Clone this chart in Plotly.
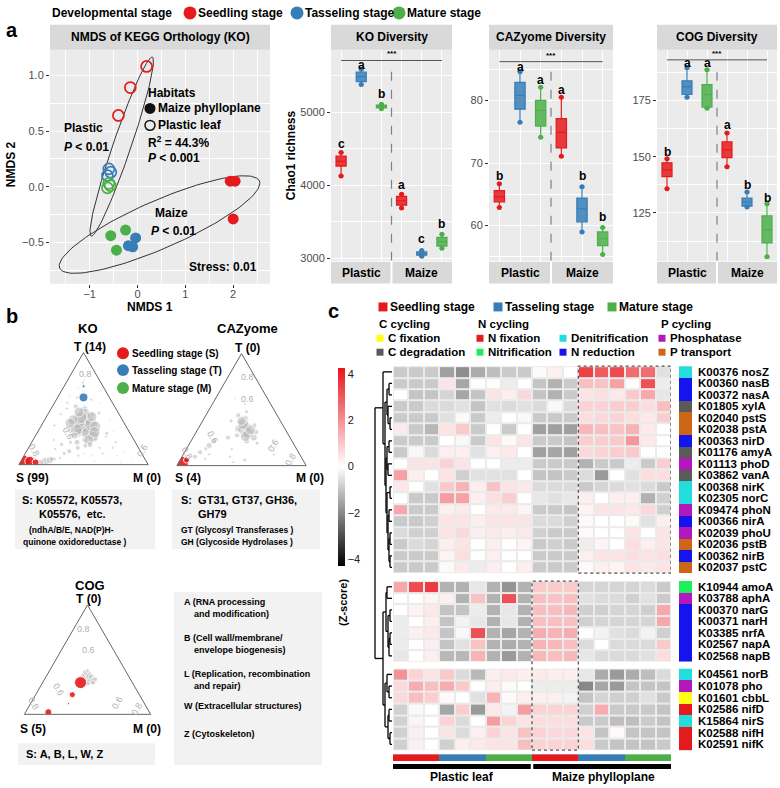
import math
import plotly.graph_objects as go

W, H = 780, 788
FONT = "Liberation Sans, Arial, sans-serif"
RED, BLUE, GREEN = "#E41A1C", "#377EB8", "#4DAF4A"
PANEL_BG = "#EBEBEB"
STRIP_BG = "#D9D9D9"

# ------------------------------------------------------------------ data
stage_names = ["Seedling stage", "Tasseling stage", "Mature stage"]
stage_colors = [RED, BLUE, GREEN]

# NMDS (panel a)
nmds_pl_S_x = [0.19, -0.15, -0.40]
nmds_pl_S_y = [1.08, 0.89, 0.64]
nmds_pl_T_x = [-0.60, -0.56, -0.63]
nmds_pl_T_y = [0.16, 0.13, 0.10]
nmds_pl_M_x = [-0.60, -0.63, -0.57]
nmds_pl_M_y = [0.03, -0.01, 0.01]
nmds_mz_S_x = [1.94, 2.04, 2.00]
nmds_mz_S_y = [0.05, 0.05, -0.29]
nmds_mz_T_x = [-0.19, -0.04, -0.10]
nmds_mz_T_y = [-0.53, -0.46, -0.54]
nmds_mz_M_x = [-0.56, -0.25, -0.44]
nmds_mz_M_y = [-0.44, -0.39, -0.57]

# Box plots: order Plastic S,T,M | Maize S,T,M
box_pos = [1, 2, 3, 4, 5, 6]
ko_lo = [4130, 5380, 5050, 3690, 3030, 3140]
ko_q1 = [4265, 5420, 5060, 3730, 3045, 3170]
ko_med = [4330, 5490, 5080, 3790, 3065, 3230]
ko_q3 = [4400, 5550, 5100, 3850, 3090, 3290]
ko_hi = [4450, 5590, 5110, 3880, 3110, 3330]
ko_letters = ["c", "a", "b", "a", "c", "b"]
ko_letter_y = [4565, 5650, 5245, 4000, 3270, 3475]

cz_lo = [62.9, 76.5, 74.1, 71.1, 59.0, 55.4]
cz_q1 = [63.8, 78.6, 75.9, 72.4, 60.6, 56.8]
cz_med = [64.6, 80.8, 78.4, 74.9, 62.7, 57.9]
cz_q3 = [65.6, 82.9, 80.0, 77.1, 64.4, 59.0]
cz_hi = [66.7, 84.6, 82.1, 80.5, 66.2, 59.7]
cz_letters = ["b", "a", "a", "a", "b", "b"]
cz_letter_y = [67.9, 85.4, 83.2, 81.7, 67.9, 61.3]

cg_lo = [135.8, 176.5, 171.6, 145.6, 127.7, 105.6]
cg_q1 = [141.2, 177.7, 172.1, 149.6, 128.1, 111.7]
cg_med = [144.2, 181.2, 177.7, 153.1, 129.9, 117.5]
cg_q3 = [147.3, 183.8, 182.1, 156.6, 131.6, 123.7]
cg_hi = [149.1, 189.6, 188.7, 160.6, 134.3, 129.1]
cg_letters = ["b", "a", "a", "a", "b", "b"]
cg_letter_y = [152.0, 191.5, 191.5, 164.0, 137.4, 131.8]

# Ternary (panel b): T (top), S (left), marker size
ko_gray_T = [0.35, 0.40, 0.30, 0.38, 0.33, 0.45, 0.28, 0.42, 0.36, 0.25, 0.48, 0.31, 0.39, 0.22, 0.50, 0.27,
             0.44, 0.34, 0.20, 0.17, 0.15, 0.52, 0.30, 0.24, 0.37, 0.32, 0.10, 0.12, 0.08, 0.05, 0.06, 0.15,
             0.10, 0.05, 0.08, 0.20, 0.12, 0.05, 0.25, 0.55, 0.60, 0.65, 0.70, 0.58, 0.03, 0.18, 0.14, 0.03,
             0.02, 0.40, 0.30, 0.45, 0.50, 0.62, 0.75, 0.20, 0.03, 0.04, 0.02, 0.05,
             0.30, 0.35, 0.40, 0.45, 0.33, 0.38, 0.28, 0.42, 0.25, 0.36, 0.31, 0.47, 0.22, 0.40, 0.34, 0.29,
             0.37, 0.43, 0.18, 0.26, 0.08, 0.12, 0.22, 0.35, 0.55, 0.68, 0.80, 0.46, 0.15, 0.06, 0.10, 0.28]
ko_gray_S = [0.33, 0.30, 0.35, 0.36, 0.28, 0.28, 0.40, 0.34, 0.25, 0.33, 0.27, 0.30, 0.40, 0.38, 0.24, 0.27,
             0.22, 0.42, 0.45, 0.40, 0.47, 0.30, 0.45, 0.30, 0.31, 0.37, 0.60, 0.55, 0.50, 0.70, 0.65, 0.20,
             0.30, 0.30, 0.20, 0.15, 0.12, 0.10, 0.20, 0.35, 0.25, 0.18, 0.15, 0.15, 0.40, 0.58, 0.65, 0.55,
             0.20, 0.10, 0.12, 0.45, 0.38, 0.30, 0.12, 0.50, 0.78, 0.74, 0.82, 0.72,
             0.30, 0.32, 0.28, 0.27, 0.36, 0.35, 0.33, 0.31, 0.30, 0.26, 0.40, 0.30, 0.35, 0.38, 0.24, 0.27,
             0.42, 0.22, 0.36, 0.44, 0.40, 0.80, 0.62, 0.55, 0.10, 0.20, 0.10, 0.15, 0.30, 0.85, 0.45, 0.18]
ko_gray_size = [9, 9, 9, 8, 8, 8, 8, 8, 7, 7, 7, 9, 7, 6, 6, 7, 6, 6, 6, 5, 5, 5, 5, 6, 9, 9, 4, 5, 3, 4, 3, 3,
                3, 2, 2, 3, 2, 2, 3, 3, 3, 2, 2, 3, 2, 4, 3, 2, 2, 2, 2, 3, 3, 2, 2, 4, 8, 7, 6, 5,
                14, 15, 13, 12, 14, 13, 12, 12, 11, 13, 12, 10, 10, 10, 11, 11, 10, 10, 6, 7, 2, 2, 3, 3, 2, 2,
                2, 4, 3, 2, 2, 4]
ko_red_T = [0.02, 0.03, 0.02]
ko_red_S = [0.96, 0.90, 0.86]
ko_red_size = [15, 10, 7]
ko_blue_T = [0.60, 0.70, 0.73]
ko_blue_S = [0.20, 0.15, 0.14]
ko_blue_size = [9, 3, 2]

cz_gray_T = [0.31, 0.35, 0.28, 0.38, 0.25, 0.33, 0.42, 0.22, 0.30, 0.45, 0.36, 0.27, 0.40, 0.20, 0.48, 0.05,
             0.08, 0.12, 0.15, 0.18, 0.22, 0.10, 0.06, 0.10, 0.18, 0.05, 0.08, 0.25, 0.15, 0.55, 0.60, 0.03,
             0.33, 0.29, 0.37, 0.26, 0.40, 0.32]
cz_gray_S = [0.30, 0.28, 0.33, 0.32, 0.28, 0.36, 0.26, 0.35, 0.24, 0.30, 0.22, 0.40, 0.38, 0.28, 0.22, 0.88,
             0.82, 0.76, 0.70, 0.66, 0.60, 0.70, 0.75, 0.20, 0.18, 0.45, 0.55, 0.48, 0.50, 0.20, 0.25, 0.55,
             0.32, 0.30, 0.30, 0.34, 0.30, 0.27]
cz_gray_size = [9, 8, 8, 7, 7, 7, 6, 6, 6, 5, 5, 5, 4, 4, 4, 4, 5, 5, 4, 6, 5, 3, 3, 3, 3, 4, 3, 5, 3, 3, 2, 3,
                12, 11, 11, 10, 9, 10]
cz_red_T = [0.03, 0.05]
cz_red_S = [0.94, 0.90]
cz_red_size = [12, 6]

cg_gray_T = [0.33, 0.36, 0.30, 0.34, 0.38, 0.31, 0.35, 0.28, 0.32, 0.40, 0.29]
cg_gray_S = [0.34, 0.31, 0.33, 0.30, 0.33, 0.30, 0.36, 0.36, 0.28, 0.30, 0.31]
cg_gray_size = [8, 7, 7, 6, 6, 6, 5, 5, 5, 4, 5]
cg_red_T = [0.29, 0.18, 0.10, 0.02]
cg_red_S = [0.41, 0.53, 0.60, 0.80]
cg_red_size = [12, 6, 2, 7]

# Heatmap (panel c)
genes_b1 = ["K00376 nosZ", "K00360 nasB", "K00372 nasA", "K01805 xylA", "K02040 pstS", "K02038 pstA",
            "K00363 nirD", "K01176 amyA", "K01113 phoD", "K03862 vanA", "K00368 nirK", "K02305 norC",
            "K09474 phoN", "K00366 nirA", "K02039 phoU", "K02036 pstB", "K00362 nirB", "K02037 pstC"]
genes_b2 = ["K10944 amoA", "K03788 aphA", "K00370 narG", "K00371 narH", "K03385 nrfA", "K02567 napA",
            "K02568 napB"]
genes_b3 = ["K04561 norB", "K01078 pho", "K01601 cbbL", "K02586 nifD", "K15864 nirS", "K02588 nifH",
            "K02591 nifK"]
func_names = ["C fixation", "C degradation", "N fixation", "Nitrification", "Denitrification",
              "N reduction", "Phosphatase", "P transport"]
func_colors = ["#FFFF14", "#5A5A5A", "#E41A1C", "#1EEE5A", "#22DCDE", "#1414EE", "#B218BE", "#CE6618"]
func_b1 = [4, 5, 5, 1, 7, 7, 5, 1, 6, 1, 4, 4, 6, 5, 6, 7, 5, 7]
func_b2 = [3, 6, 5, 5, 5, 5, 5]
func_b3 = [4, 6, 0, 2, 4, 2, 2]
col_stage = [0, 0, 0, 1, 1, 1, 2, 2, 2, 0, 0, 0, 1, 1, 1, 2, 2, 2]

hm_b1 = [
    [-0.9, -0.9, -0.9, -1.6, -1.9, -1.4, -1.1, -0.9, -0.9, 0.1, 0.3, 0.0, 3.5, 3.0, 3.3, 2.7, 2.7, -0.5],
    [-0.9, -0.9, -0.9, 0.5, -1.5, 0.0, 0.05, -0.3, 0.0, -1.0, -1.3, -0.9, 1.2, 1.1, 1.7, 0.05, 3.2, -0.3],
    [0.0, -1.0, -1.0, -0.7, -1.5, -1.0, 0.5, 0.3, 0.7, -1.0, -1.3, -0.9, 0.5, 0.6, 0.4, 1.0, 1.6, -0.4],
    [-0.9, -0.9, -0.6, -0.6, -0.5, -1.0, -0.5, -0.6, -0.5, -0.6, -0.1, -0.6, 0.8, 0.8, 0.9, 0.9, 0.6, 1.2],
    [-0.9, -0.9, -0.9, -0.5, 0.1, -0.9, -0.3, 0.0, -0.1, -0.9, -0.9, -0.9, 0.6, 0.7, 0.8, 0.6, 0.4, 0.9],
    [0.4, -0.9, -1.2, 0.5, 1.0, -0.9, 0.0, -0.9, 0.0, -1.6, -1.6, -1.6, 1.3, 1.2, 1.1, 1.4, 0.4, 0.0],
    [-0.9, -0.9, -0.9, 0.0, -0.1, -0.9, 0.5, 0.1, 0.5, -0.9, -0.9, -1.0, 0.9, 0.9, 1.0, 1.9, 0.4, 0.0],
    [-0.9, -0.1, -0.6, 0.3, 0.3, -0.5, 0.3, 0.4, 0.0, -1.6, -1.5, -1.6, 0.7, 0.8, 0.9, 1.0, 0.0, 0.0],
    [0.0, 0.5, 0.5, 0.8, 0.5, 0.0, 0.0, -0.3, -0.3, -0.9, -0.9, -0.9, -1.3, -0.9, -0.9, -0.3, -0.9, 0.9],
    [1.7, 0.3, 0.0, 0.5, -0.8, -0.5, -0.5, -0.5, 0.0, -1.0, -1.0, -0.9, -0.6, -1.7, 0.0, -0.5, 0.6, 0.6],
    [0.4, 0.0, -0.5, 1.0, 1.4, 0.3, 1.1, 0.5, 0.4, -0.6, -0.6, -0.6, -0.9, -0.7, -0.6, -0.5, -0.6, -0.9],
    [0.0, -0.9, -0.9, 1.8, 1.7, 0.3, 0.6, 0.9, 0.0, -0.4, -0.5, -0.4, 0.3, 0.0, 0.3, 0.3, -1.3, -0.8],
    [1.6, -0.9, -0.9, 0.3, 0.4, 0.0, 0.4, 0.4, 0.2, -0.9, -0.9, -1.0, 0.2, 0.5, 0.5, 0.4, 0.7, -0.8],
    [-0.9, -0.9, -0.8, 0.5, 0.5, 0.3, 0.5, 0.5, 0.5, -0.6, -0.6, -0.8, 0.1, 0.0, 0.0, 0.1, -0.5, 0.3],
    [-0.6, -0.8, -0.8, 0.5, 0.7, 0.3, 0.4, 0.3, 0.4, -0.8, -0.9, -0.9, 0.1, 0.0, 0.0, 0.5, 0.0, 0.5],
    [-0.9, -0.6, -0.7, 0.3, 0.5, 0.0, 0.3, 0.0, 0.2, -0.9, -0.8, -0.9, -0.3, 0.2, 0.0, 0.6, 0.3, 0.5],
    [-0.9, -0.9, -0.9, 0.2, 0.6, 0.0, 0.3, 0.0, 0.0, -0.9, -0.9, -0.9, 0.3, 0.5, 0.5, 0.6, 0.5, 0.6],
    [-0.9, -0.9, -0.9, 0.1, 0.4, -0.3, 0.3, 0.0, 0.3, -0.9, -0.9, -0.9, 0.1, 0.3, 0.2, 0.5, 0.4, 0.5],
]
hm_b2 = [
    [1.6, 3.3, 3.6, -1.3, -1.3, -0.4, -1.3, -1.8, -1.3, 1.0, 1.0, 1.0, -0.7, -0.7, -0.7, -0.7, -0.6, -0.9],
    [0.0, 0.0, 0.2, 0.3, -1.3, 1.1, -1.3, 3.2, -1.3, 1.2, 1.1, 1.2, -0.5, -0.6, -0.6, -0.8, -0.5, -0.9],
    [0.0, 0.2, 0.4, -1.0, -1.0, -0.3, -1.3, -0.4, -1.3, 1.2, 1.2, 1.3, -0.8, -0.8, -0.7, -0.7, -0.8, 1.6],
    [-0.3, 0.0, 0.3, -1.0, -0.2, -0.4, -1.3, -0.4, -1.3, 1.2, 1.2, 1.2, -0.8, -0.7, -0.7, -0.7, -0.7, 1.6],
    [-0.3, 0.3, 0.4, -1.0, -0.1, 3.2, -1.3, -1.5, -1.3, 1.5, 1.4, 1.5, 0.0, -0.2, -0.5, -0.6, -0.2, -0.8],
    [-0.3, 0.0, 0.3, -1.0, -0.5, 1.1, -1.3, -1.4, -1.3, 1.4, 1.3, 1.2, -0.6, 0.0, -0.6, -0.6, -0.6, 1.0],
    [-0.4, 0.0, 0.3, -1.2, -1.2, 1.4, -1.3, -1.7, -1.3, 1.3, 1.2, 1.3, -0.4, -0.6, -0.6, -0.6, -0.5, 0.6],
]
hm_b3 = [
    [2.0, 0.8, 0.5, 1.0, -0.6, -1.2, 0.3, 0.4, 0.3, 0.4, 0.3, 0.3, -0.4, -1.4, -1.7, -1.4, -1.1, -0.6],
    [0.7, 1.5, 1.2, 1.5, 1.0, 0.0, 0.3, 0.1, 0.0, -0.3, -0.3, -0.3, -2.0, -1.5, -1.7, -1.0, -1.0, -1.0],
    [0.7, 1.2, 0.9, 0.1, 0.0, -0.5, 1.4, 0.1, 0.3, 0.3, 0.3, -0.2, -1.0, -0.7, -0.8, -0.8, -0.5, -0.9],
    [-0.8, -0.1, 0.0, -1.5, 0.9, -1.7, 0.4, -0.2, 1.8, 0.8, 0.8, 0.8, -0.8, 1.5, -0.9, -0.9, -0.9, -1.0],
    [-0.8, 0.2, 0.0, 0.8, -0.6, 0.0, 1.8, 0.8, 0.5, 0.6, 0.6, 0.6, -0.9, -0.9, -1.1, -1.1, -0.9, -1.0],
    [-0.8, 0.3, 0.0, 0.5, -0.6, 0.3, 0.8, 0.5, 1.1, 0.8, 0.7, 0.7, 0.5, -1.0, 0.1, -1.0, -1.0, -1.0],
    [-0.8, 0.3, 0.0, -0.8, 0.3, 0.4, 0.5, 0.5, 1.2, 0.8, 0.8, 0.8, 0.6, -0.9, -1.0, -1.0, -1.0, -0.9],
]
# Row dendrogram (leaf indices 0..31 in display order, merge heights in px units)
dendro_b1 = [0, [[[1, 2, 3], [3, [4, 5, 2], 4], 5],
                 [[[6, 7, 3], [8, 9, 4], 5],
                  [[10, 11, 2], [[12, 13, 3], [[14, 15, 2], [16, 17, 2], 3], 4], 5], 6], 7], 9]
dendro_b2 = [[18, 19, 5], [[20, 21, 2], [[22, 23, 2], 24, 3], 4], 6]
dendro_b3 = [[25, [26, 27, 3], 5], [[28, 29, 3], [30, 31, 2], 4], 7]
dendro_root = [dendro_b1, [dendro_b2, dendro_b3, 9], 17]

# ------------------------------------------------------------------ helpers
def X(p):
    return p / W


def Y(p):
    return 1 - p / H


shapes = []
anns = []


def txt(x, y, s, size=12, bold=True, color="black", xanchor="left", yanchor="middle", angle=0,
        xref="paper", yref="paper"):
    if bold:
        s = "<b>" + s + "</b>"
    anns.append(dict(x=X(x) if xref == "paper" else x, y=Y(y) if yref == "paper" else y,
                     xref=xref, yref=yref, text=s, showarrow=False, textangle=angle,
                     font=dict(family=FONT, size=size, color=color),
                     xanchor=xanchor, yanchor=yanchor))


def rect(x0, y0, x1, y1, fill, layer="below", line=None):
    shapes.append(dict(type="rect", xref="paper", yref="paper", x0=X(x0), x1=X(x1), y0=Y(y1), y1=Y(y0),
                       fillcolor=fill, line=line or dict(width=0), layer=layer))


def circ(cx, cy, r, fill, line_color=None, lw=0):
    shapes.append(dict(type="circle", xref="paper", yref="paper", x0=X(cx - r), x1=X(cx + r),
                       y0=Y(cy + r), y1=Y(cy - r), fillcolor=fill,
                       line=dict(color=line_color or fill, width=lw), layer="above"))


fig = go.Figure()

# ------------------------------------------------------------------ top legend
txt(50, 13, "Developmental stage", 12)
for cx, tx, name, col in zip([190, 297, 399], [196, 303, 405], stage_names, stage_colors):
    circ(cx, 13, 6.5, col)
    txt(tx, 13, name, 12)
txt(4, 30, "a", 20)
txt(4, 318, "b", 20)
txt(326, 313, "c", 20)

# ------------------------------------------------------------------ NMDS
NM_X = (50, 270)
NM_Y = (50, 285)
nm_xr = [-1.83, 2.77]
nm_yr = [-0.87, 1.23]
sx = (NM_X[1] - NM_X[0]) / (nm_xr[1] - nm_xr[0])
sy = (NM_Y[1] - NM_Y[0]) / (nm_yr[1] - nm_yr[0])


def ellipse(cx, cy, a, b, ang_deg, n=120):
    ang = math.radians(ang_deg)
    xs, ys = [], []
    for i in range(n + 1):
        t = 2 * math.pi * i / n
        ex, ey = a * math.cos(t), b * math.sin(t)
        xs.append(cx + (ex * math.cos(ang) - ey * math.sin(ang)) / sx)
        ys.append(cy + (ex * math.sin(ang) + ey * math.cos(ang)) / sy)
    return xs, ys


for (cx, cy, a, b, ang) in [(-0.33, 0.36, 95, 9, 71.2), (0.46, -0.34, 109, 24, 23.7)]:
    ex, ey = ellipse(cx, cy, a, b, ang)
    fig.add_trace(go.Scatter(x=ex, y=ey, mode="lines", line=dict(color="#333333", width=1),
                             xaxis="x", yaxis="y", showlegend=False, hoverinfo="skip"))

for xs, ys, col in [(nmds_pl_S_x, nmds_pl_S_y, RED), (nmds_pl_T_x, nmds_pl_T_y, BLUE),
                    (nmds_pl_M_x, nmds_pl_M_y, GREEN)]:
    fig.add_trace(go.Scatter(x=xs, y=ys, mode="markers", xaxis="x", yaxis="y", showlegend=False,
                             marker=dict(symbol="circle-open", size=11, color=col, line=dict(width=1.7))))
for xs, ys, col in [(nmds_mz_S_x, nmds_mz_S_y, RED), (nmds_mz_T_x, nmds_mz_T_y, BLUE),
                    (nmds_mz_M_x, nmds_mz_M_y, GREEN)]:
    fig.add_trace(go.Scatter(x=xs, y=ys, mode="markers", xaxis="x", yaxis="y", showlegend=False,
                             marker=dict(symbol="circle", size=11, color=col)))

rect(NM_X[0], 50, NM_X[1], NM_Y[1], PANEL_BG)
rect(NM_X[0], 25, NM_X[1], 50, STRIP_BG)
txt((NM_X[0] + NM_X[1]) / 2, 37.5, "NMDS of KEGG Orthology (KO)", 12, xanchor="center")
txt(150, 309, "NMDS 1", 12, xanchor="center")
txt(11, 165, "NMDS 2", 12, xanchor="center", angle=-90)
txt(146, 93, "Habitats", 12)
circ(150, 109, 5.5, "#111111")
txt(156, 109, "Maize phylloplane", 12)
circ(150, 126, 5, "rgba(0,0,0,0)", "#111111", 1.5)
txt(156, 126, "Plastic leaf", 12)
txt(146, 143, "R<sup>2</sup> = 44.3%", 12)
txt(146, 159, "<i>P</i> < 0.001", 12)
txt(62, 129, "Plastic", 12)
txt(62, 148, "<i>P</i> < 0.01", 12)
txt(153, 214, "Maize", 12)
txt(149, 232, "<i>P</i> < 0.01", 12)
txt(259, 268, "Stress: 0.01", 12, xanchor="right")

# ------------------------------------------------------------------ box panels
PANELS = [
    dict(ax="2", x=(331, 452), yr=[2970, 5857], dt=1000, title="KO Diversity", lo=ko_lo, q1=ko_q1,
         med=ko_med, q3=ko_q3, hi=ko_hi, let=ko_letters, lety=ko_letter_y, sig=5710, dash_top=5612),
    dict(ax="3", x=(489, 613), yr=[54.4, 88.1], dt=10, title="CAZyome Diversity", lo=cz_lo, q1=cz_q1,
         med=cz_med, q3=cz_q3, hi=cz_hi, let=cz_letters, lety=cz_letter_y, sig=86.2, dash_top=85.2),
    dict(ax="4", x=(657, 777), yr=[103.8, 197.6], dt=25, title="COG Diversity", lo=cg_lo, q1=cg_q1,
         med=cg_med, q3=cg_q3, hi=cg_hi, let=cg_letters, lety=cg_letter_y, sig=193.1, dash_top=190.9),
]
box_cols = stage_colors * 2
fill_cols = ["rgba(228,26,28,0.85)", "rgba(55,126,184,0.85)", "rgba(77,175,74,0.85)"] * 2
for P in PANELS:
    xa, ya = "x" + P["ax"], "y" + P["ax"]
    for i in range(6):
        fig.add_trace(go.Box(x=[box_pos[i]], q1=[P["q1"][i]], median=[P["med"][i]], q3=[P["q3"][i]],
                             lowerfence=[P["lo"][i]], upperfence=[P["hi"][i]], width=0.5,
                             fillcolor=fill_cols[i], line=dict(color=box_cols[i], width=1.2),
                             boxpoints=False, xaxis=xa, yaxis=ya, showlegend=False, hoverinfo="skip"))
        fig.add_trace(go.Scatter(x=[box_pos[i], box_pos[i]], y=[P["lo"][i], P["hi"][i]], mode="markers",
                                 marker=dict(size=5, color=box_cols[i]), xaxis=xa, yaxis=ya,
                                 showlegend=False, hoverinfo="skip"))
        txt(box_pos[i], P["lety"][i], P["let"][i], 12, xanchor="center", xref=xa, yref=ya)
    shapes.append(dict(type="line", xref=xa, yref=ya, x0=3.5, x1=3.5, y0=P["yr"][0], y1=P["dash_top"],
                       line=dict(color="#808080", width=1.2, dash="dash")))
    shapes.append(dict(type="line", xref=xa, yref=ya, x0=1, x1=6, y0=P["sig"], y1=P["sig"],
                       line=dict(color="#555555", width=1)))
    txt(3.5, P["sig"], "***", 8, xanchor="center", yanchor="bottom", xref=xa, yref=ya)
    x0, x1 = P["x"]
    mid = x0 + (x1 - x0) / 2
    rect(x0, 50, x1, 262, PANEL_BG)
    rect(x0, 25, x1, 50, STRIP_BG)
    txt(mid, 37.5, P["title"], 12, xanchor="center")
    rect(x0, 263, mid - 1, 285, STRIP_BG)
    rect(mid + 1, 263, x1, 285, STRIP_BG)
    txt((x0 + mid) / 2, 274, "Plastic", 12, xanchor="center")
    txt((mid + x1) / 2, 274, "Maize", 12, xanchor="center")
txt(291, 156, "Chao1 richness", 12, xanchor="center", angle=-90)

# ------------------------------------------------------------------ ternary plots
GRAY = "rgba(185,185,185,0.8)"


def tern_traces(sub, gT, gS, gSz, groups):
    fig.add_trace(go.Scatterternary(a=gT, b=gS, c=[1 - t - s for t, s in zip(gT, gS)], mode="markers",
                                    marker=dict(size=gSz, color=GRAY), subplot=sub, showlegend=False,
                                    hoverinfo="skip"))
    for T, S, Sz, col in groups:
        fig.add_trace(go.Scatterternary(a=T, b=S, c=[1 - t - s for t, s in zip(T, S)], mode="markers",
                                        marker=dict(size=Sz, color=col, opacity=0.9), subplot=sub,
                                        showlegend=False, hoverinfo="skip"))


tern_traces("ternary", ko_gray_T, ko_gray_S, ko_gray_size,
            [(ko_red_T, ko_red_S, ko_red_size, RED), (ko_blue_T, ko_blue_S, ko_blue_size, BLUE)])
tern_traces("ternary2", cz_gray_T, cz_gray_S, cz_gray_size, [(cz_red_T, cz_red_S, cz_red_size, RED)])
tern_traces("ternary3", cg_gray_T, cg_gray_S, cg_gray_size, [(cg_red_T, cg_red_S, cg_red_size, RED)])


def tern_layout(x0, x1, y_top, y_bot):
    axd = dict(showline=True, linecolor="#666666", linewidth=1, showgrid=False, showticklabels=False,
               ticks="", title=dict(text=""))
    return dict(domain=dict(x=[X(x0), X(x1)], y=[Y(y_bot), Y(y_top)]), bgcolor="white",
                aaxis=axd, baxis=axd, caxis=axd, sum=1)


# titles / corner labels
txt(88, 330, "KO", 13, xanchor="center")
txt(90, 349, "T (14)", 12, xanchor="center")
txt(32, 480, "S (99)", 12, xanchor="center")
txt(147, 480, "M (0)", 12, xanchor="center")
txt(247, 330, "CAZyome", 13, xanchor="center")
txt(248, 350, "T (0)", 12, xanchor="center")
txt(188, 480, "S (4)", 12, xanchor="center")
txt(310, 480, "M (0)", 12, xanchor="center")
txt(90, 588, "COG", 13, xanchor="center")
txt(88, 602, "T (0)", 12, xanchor="center")
txt(33, 733, "S (5)", 12, xanchor="center")
txt(147, 733, "M (0)", 12, xanchor="center")

# grid-value labels inside triangles
LG = "#B0B0B0"
for (x, y, s, a) in [(85, 376, "0.8", 0), (34, 452, "0.8", 60), (68, 435, "0.6", 60), (142, 453, "0.6", -60),
                     (248, 379, "0.8", 0), (247, 401, "0.6", 0), (187, 455, "0.8", 60), (213, 440, "0.6", 60),
                     (273, 448, "0.6", -60), (290, 462, "0.8", -60),
                     (83, 632, "0.8", 0), (88, 653, "0.6", 0), (58, 693, "0.6", 60), (33, 707, "0.8", 60),
                     (118, 706, "0.6", -60), (137, 713, "0.8", -60)]:
    txt(x, y, s, 9, bold=False, color=LG, xanchor="center", angle=a)

# b legend
for cy, name, col in zip([355, 372, 390], ["Seedling stage (S)", "Tasseling stage (T)", "Mature stage (M)"],
                         stage_colors):
    circ(123, cy, 6, col)
    txt(130, cy, name, 10)

# text boxes
BOXF = "#F2F2F2"
rect(15, 492, 155, 552, BOXF)
txt(20, 503, "S: K05572, K05573,", 11)
txt(37, 517, "K05576,  etc.", 11)
txt(27, 533, "(ndhA/B/E, NAD(P)H-", 8.5)
txt(21, 545, "quinone oxidoreductase )", 8.5)
rect(172, 492, 320, 552, BOXF)
txt(179, 503, "S:  GT31, GT37, GH36,", 11)
txt(196, 517, "GH79", 11)
txt(179, 533, "GT (Glycosyl Transferases )", 8.5)
txt(179, 545, "GH (Glycoside Hydrolases )", 8.5)
rect(18, 747, 155, 769, BOXF)
txt(24, 758, "S: A, B, L, W, Z", 11)
rect(174, 595, 322, 769, BOXF)
for (x, y, s) in [(182, 605, "A (RNA processing"), (192, 617, "and modification)"),
                  (182, 641, "B (Cell wall/membrane/"), (192, 653, "envelope biogenesis)"),
                  (182, 677, "L (Replication, recombination"), (192, 689, "and repair)"),
                  (182, 710, "W (Extracellular structures)"), (182, 738, "Z (Cytoskeleton)")]:
    txt(x, y, s, 9)

# ------------------------------------------------------------------ heatmap
HX0, HX1 = 393, 671
BLOCKS = [(hm_b1, genes_b1, func_b1, "5", 368, 576), (hm_b2, genes_b2, func_b2, "6", 584, 665),
          (hm_b3, genes_b3, func_b3, "7", 672, 754)]
CS = [[0, "#000000"], [0.5, "#FFFFFF"], [1, "#E8151B"]]
nf = len(func_colors)
fcs = []
for i, c in enumerate(func_colors):
    fcs.append([i / nf, c])
    fcs.append([(i + 1) / nf, c])

row_y = []
for bi, (z, genes, funcs, ax, y0, y1) in enumerate(BLOCKS):
    n = len(z)
    fig.add_trace(go.Heatmap(z=z, x=list(range(18)), y=list(range(n)), colorscale=CS, zmin=-4.3, zmax=4.3,
                             xgap=2, ygap=2, xaxis="x5", yaxis="y" + ax, showscale=(bi == 0),
                             hoverinfo="skip",
                             colorbar=dict(x=X(338), xanchor="left", y=Y(469), yanchor="middle",
                                           len=198, lenmode="pixels", thickness=7, outlinewidth=0,
                                           xpad=0, ypad=0, tickvals=[-4, -2, 0, 2, 4], ticks="",
                                           tickfont=dict(family=FONT, size=11, color="#222222"))))
    fig.add_trace(go.Heatmap(z=[[f] for f in funcs], x=[0], y=list(range(n)), colorscale=fcs,
                             zmin=-0.5, zmax=nf - 0.5, showscale=False, xaxis="x6", yaxis="y" + ax,
                             hoverinfo="skip"))
    for r, g in enumerate(genes):
        txt(696, r, g, 11.5, xref="paper", yref="y" + ax)
        anns[-1]["x"] = X(696)
        row_y.append(y0 + (r + 0.5) * (y1 - y0) / n)

# column annotation
fig.add_trace(go.Heatmap(z=[col_stage], x=list(range(18)), y=[0],
                         colorscale=[[0, RED], [0.25, RED], [0.25, BLUE], [0.75, BLUE], [0.75, GREEN], [1, GREEN]],
                         zmin=0, zmax=2, showscale=False, xaxis="x5", yaxis="y8", hoverinfo="skip"))
shapes.append(dict(type="rect", xref="x5", yref="paper", x0=-0.5, x1=8.42, y0=Y(773), y1=Y(768),
                   fillcolor="black", line=dict(width=0)))
shapes.append(dict(type="rect", xref="x5", yref="paper", x0=8.58, x1=17.5, y0=Y(773), y1=Y(768),
                   fillcolor="black", line=dict(width=0)))
txt(462, 781, "Plastic leaf", 12, xanchor="center")
txt(603, 781, "Maize phylloplane", 12, xanchor="center")
txt(343, 606, "(Z-score)", 11, xanchor="center", angle=-90)

# dashed highlight boxes
DASH = dict(color="#555555", width=1.3, dash="dot")
shapes.append(dict(type="rect", xref="x5", yref="paper", x0=11.5, x1=17.5, y0=Y(576), y1=Y(368),
                   line=DASH, fillcolor="rgba(0,0,0,0)", layer="above"))
shapes.append(dict(type="rect", xref="x5", yref="paper", x0=8.5, x1=11.5, y0=Y(754), y1=Y(584),
                   line=DASH, fillcolor="rgba(0,0,0,0)", layer="above"))

# heatmap legend
for cx, tx, name, col in zip([383, 498, 612], [388, 503, 617], stage_names, stage_colors):
    rect(cx - 4.5, 304, cx + 4.5, 313, col, layer="above")
    txt(tx, 308.5, name, 12)
for x, name in [(377, "C cycling"), (476, "N cycling"), (659, "P cycling")]:
    txt(x, 326, name, 11.5)
for (sqx, tx, yy, fi) in [(380, 386, 340, 0), (380, 386, 354, 1), (480, 486, 340, 2), (480, 486, 354, 3),
                          (563, 569, 340, 4), (563, 569, 354, 5), (662, 668, 340, 6), (662, 668, 354, 7)]:
    rect(sqx - 3.5, yy - 3.5, sqx + 3.5, yy + 3.5, func_colors[fi], layer="above")
    txt(tx, yy, func_names[fi], 11.5)

# dendrogram
LEAF_X = 392


def draw(node):
    if isinstance(node, int):
        return LEAF_X, row_y[node]
    lx, ly = draw(node[0])
    rx, ry = draw(node[1])
    nx = LEAF_X - node[2]
    for (cx, cy) in [(lx, ly), (rx, ry)]:
        shapes.append(dict(type="line", xref="paper", yref="paper", x0=X(nx), x1=X(cx), y0=Y(cy), y1=Y(cy),
                           line=dict(color="black", width=1.3)))
    shapes.append(dict(type="line", xref="paper", yref="paper", x0=X(nx), x1=X(nx), y0=Y(ly), y1=Y(ry),
                       line=dict(color="black", width=1.3)))
    return nx, (ly + ry) / 2


draw(dendro_root)

# ------------------------------------------------------------------ layout
def dom(a, b, total):
    return [a / total, b / total]


tickfont = dict(family=FONT, size=11, color="#4D4D4D")
grid_common = dict(gridcolor="white", gridwidth=1.1, zeroline=False, showline=False)

layout_axes = dict(
    xaxis=dict(domain=dom(*NM_X, W), range=nm_xr, tickvals=[-1, 0, 1, 2], ticks="outside", ticklen=3,
               tickcolor="#333333", tickfont=tickfont, anchor="y", ticklabelstandoff=-3,
               minor=dict(dtick=0.5, tick0=0, showgrid=True, gridcolor="white", gridwidth=0.5), **grid_common),
    yaxis=dict(domain=[Y(NM_Y[1]), Y(50)], range=nm_yr, tickvals=[-0.5, 0, 0.5, 1.0], tickformat=".1f",
               ticks="outside", ticklen=3, tickcolor="#333333", tickfont=tickfont, anchor="x",
               minor=dict(dtick=0.25, tick0=0, showgrid=True, gridcolor="white", gridwidth=0.5), **grid_common),
)
for P in PANELS:
    a = P["ax"]
    layout_axes["xaxis" + a] = dict(domain=dom(*P["x"], W), range=[0.5, 6.5], tickvals=box_pos,
                                    showticklabels=False, ticks="", anchor="y" + a, **grid_common)
    layout_axes["yaxis" + a] = dict(domain=[Y(262), Y(50)], range=P["yr"], dtick=P["dt"], tick0=0,
                                    ticks="outside", ticklen=3, tickcolor="#333333", tickfont=tickfont,
                                    anchor="x" + a,
                                    minor=dict(dtick=P["dt"] / 2, tick0=0, showgrid=True, gridcolor="white",
                                               gridwidth=0.5), **grid_common)
hidden = dict(showgrid=False, zeroline=False, showticklabels=False, ticks="", showline=False)
layout_axes["xaxis5"] = dict(domain=dom(HX0, HX1, W), range=[-0.5, 17.5], anchor="y5", **hidden)
layout_axes["xaxis6"] = dict(domain=dom(679, 692, W), range=[-0.5, 0.5], anchor="y5", **hidden)
for (z, genes, funcs, ax, y0, y1) in BLOCKS:
    layout_axes["yaxis" + ax] = dict(domain=[Y(y1), Y(y0)], range=[len(z) - 0.5, -0.5], anchor="x5", **hidden)
layout_axes["yaxis8"] = dict(domain=[Y(765), Y(758)], range=[-0.5, 0.5], anchor="x5", **hidden)

fig.update_layout(
    width=W, height=H, margin=dict(l=0, r=0, t=0, b=0), autosize=False,
    paper_bgcolor="white", plot_bgcolor=PANEL_BG, showlegend=False,
    font=dict(family=FONT, size=12, color="black"),
    ternary=tern_layout(18.5, 148.5, 354.4, 467),
    ternary2=tern_layout(176.5, 306.5, 355.4, 468),
    ternary3=tern_layout(24, 151, 608, 718),
    shapes=shapes, annotations=anns,
    **layout_axes,
)
fig.write_html("out.html", config={"displayModeBar": False},
               post_script="document.body.style.margin='0px';document.body.style.overflow='hidden';")
